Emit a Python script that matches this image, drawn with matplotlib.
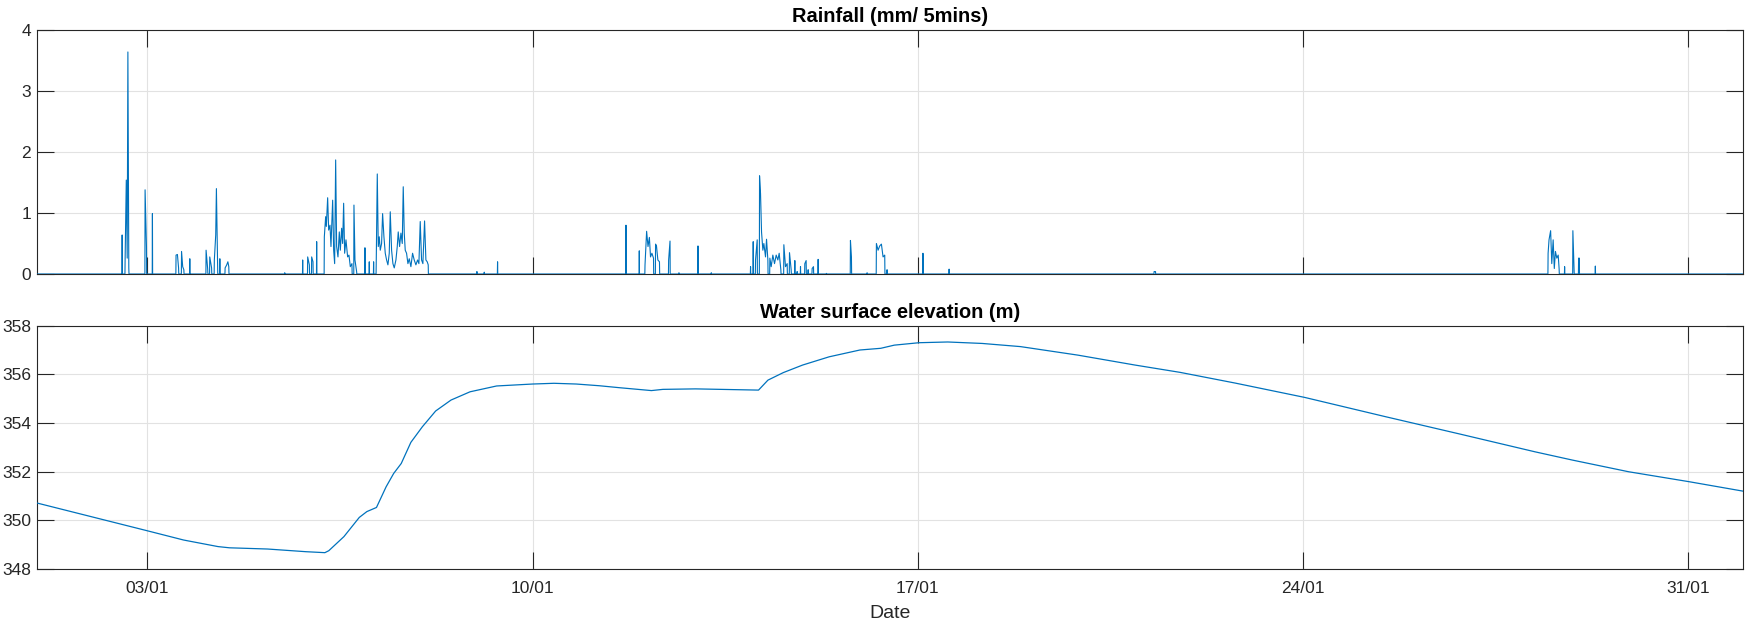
import numpy as np
import pandas as pd
import matplotlib
matplotlib.use('Agg')
import matplotlib.pyplot as plt
import matplotlib.dates as mdates

plt.rcParams['font.family'] = ['Liberation Sans', 'DejaVu Sans']

start = pd.Timestamp('2020-01-01 00:00')
end = pd.Timestamp('2020-01-31 23:55')

# rainfall samples (hours since 01/01 00:00, mm per 5 min), zero elsewhere
rain_h = [37.0, 38.3, 38.8, 39.2, 39.5, 39.9, 47.0, 47.6, 50.2,
          60.5, 61.1, 61.6, 62.9, 63.4, 63.9, 66.5,
          73.6, 74.3, 75.2, 76.0, 77.2, 77.8, 78.1, 78.6, 79.6,
          81.9, 82.6, 83.1, 83.5, 107.9,
          115.72, 117.90, 118.63, 119.64, 120.22, 121.82,
          125.16, 125.74, 126.03, 126.61, 127.05, 127.63, 128.06, 128.79,
          129.23, 129.66, 130.10, 130.53, 131.11, 131.69, 132.13, 132.71,
          133.15, 133.58, 134.02, 134.60, 135.32, 135.90, 136.49, 137.21,
          138.08, 138.52, 139.24, 142.87, 144.76, 146.65,
          147.81, 148.25, 148.68, 149.12, 149.55, 150.13, 150.57, 151.15,
          151.73, 152.31, 152.89, 153.47, 153.91, 154.49, 155.07, 155.65,
          156.38, 156.96, 157.39, 157.98, 158.56, 159.14, 159.57, 160.01,
          160.44, 161.02, 161.61, 162.19, 162.91, 163.64, 164.36, 165.09,
          165.82, 166.40, 166.98, 167.56, 168.14, 168.87, 169.45, 170.03,
          170.46,
          191.7, 194.9, 200.7, 256.7, 262.5,
          265.0, 265.7, 266.3, 266.9, 267.4, 268.0, 268.7, 269.6, 270.0,
          270.6, 271.3, 275.3, 275.9, 279.8, 288.1, 293.9,
          311.02, 312.18, 313.19, 313.92, 314.94, 315.37, 315.81, 316.39,
          316.82, 317.55, 317.99, 318.57, 319.44, 320.02, 320.74, 321.47,
          322.20, 322.92, 323.50, 324.23, 325.54, 326.26, 326.99, 328.00,
          328.73, 330.33, 331.34, 332.80, 334.68, 335.26, 336.14, 337.88,
          338.46, 340.49, 344.12, 354.58, 355.01, 361.84,
          365.90, 366.63, 367.35, 368.08, 368.80, 369.53, 370.55,
          386.2, 397.6, 487.0, 487.6,
          658.8, 659.2, 659.9, 660.4, 661.0, 661.5, 662.0, 662.6, 663.2,
          663.6, 666.0, 669.6, 670.1, 672.1, 672.4, 679.4]
rain_mm = [0.64, 0.26, 1.54, 0.26, 3.64, 0.10, 1.38, 0.45, 0.99,
           0.31, 0.32, 0.10, 0.37, 0.12, 0.07, 0.25,
           0.39, 0.08, 0.28, 0.10, 0.23, 0.64, 1.40, 0.20, 0.25,
           0.10, 0.15, 0.20, 0.12, 0.02,
           0.23, 0.28, 0.15, 0.28, 0.20, 0.53,
           0.61, 0.94, 0.78, 1.25, 0.72, 0.80, 0.45, 1.21,
           0.39, 0.17, 1.87, 0.45, 0.28, 0.69, 0.39, 0.75,
           0.50, 1.16, 0.34, 0.56, 0.28, 0.31, 0.12, 0.17,
           1.13, 0.23, 0.04, 0.43, 0.20, 0.20,
           0.23, 1.64, 0.45, 0.61, 0.39, 0.50, 0.99, 0.61,
           0.34, 0.23, 0.15, 0.34, 1.02, 0.39, 0.17, 0.10,
           0.23, 0.45, 0.69, 0.45, 0.67, 0.50, 1.43, 0.67,
           0.39, 0.34, 0.17, 0.25, 0.12, 0.34, 0.23, 0.15,
           0.23, 0.17, 0.86, 0.23, 0.17, 0.87, 0.23, 0.20,
           0.15,
           0.04, 0.03, 0.20, 0.80, 0.38,
           0.15, 0.70, 0.45, 0.60, 0.28, 0.34, 0.26, 0.49, 0.46,
           0.23, 0.20, 0.23, 0.54, 0.02, 0.46, 0.02,
           0.12, 0.53, 0.23, 0.56, 1.61, 1.32, 0.69, 0.39,
           0.50, 0.28, 0.57, 0.23, 0.26, 0.12, 0.31, 0.17,
           0.31, 0.23, 0.34, 0.07, 0.48, 0.12, 0.17, 0.35,
           0.07, 0.22, 0.04, 0.12, 0.17, 0.22, 0.07, 0.09,
           0.12, 0.24, 0.01, 0.55, 0.28, 0.02,
           0.50, 0.39, 0.46, 0.49, 0.28, 0.31, 0.07,
           0.34, 0.08, 0.04, 0.04,
           0.34, 0.56, 0.71, 0.17, 0.56, 0.09, 0.37, 0.26, 0.31,
           0.09, 0.12, 0.71, 0.05, 0.26, 0.26, 0.13]

# water surface elevation (hours since 01/01 00:00, m)
wse_h = [0, 48, 63.8, 78.8, 83.8, 100.4, 117.1, 125.4, 127.1, 133.7,
         140.4, 143.7, 147.9, 152.1, 155.4, 158.7, 162.9, 167.9, 173.7,
         180.4, 188.7, 200.3, 216, 225.3, 235, 245, 253.7, 267.8, 272.8,
         287.0, 314.5, 318.6, 325.3, 333.7, 345.3, 358.7, 367.8, 373.7,
         384.5, 397.0, 412.0, 428.7, 453.7, 478.7, 498.3, 522.3, 552.6,
         587.7, 620.4, 653.1, 669.4, 693.9, 720.3, 743.9]
wse_m = [350.70, 349.56, 349.18, 348.91, 348.86, 348.81, 348.70, 348.66,
         348.74, 349.32, 350.11, 350.35, 350.52, 351.37, 351.92, 352.33,
         353.20, 353.84, 354.49, 354.94, 355.28, 355.52, 355.60, 355.63,
         355.60, 355.53, 355.45, 355.33, 355.38, 355.40, 355.35, 355.76,
         356.07, 356.38, 356.72, 357.00, 357.07, 357.20, 357.30, 357.33,
         357.27, 357.14, 356.79, 356.38, 356.08, 355.64, 355.05, 354.26,
         353.54, 352.81, 352.47, 351.99, 351.58, 351.19]

tick_days = ['2020-01-03', '2020-01-10', '2020-01-17', '2020-01-24', '2020-01-31']

# rain goes back to zero between separate bursts
step = 5 / 60
t, v = [0.0], [0.0]
for h, mm in zip(rain_h, rain_mm):
    if h - t[-1] > 0.8:
        t += [t[-1] + step, h - step]
        v += [0.0, 0.0]
    t.append(h)
    v.append(mm)
t += [t[-1] + step, 744 - step]
v += [0.0, 0.0]

rain_dates = (start + pd.to_timedelta(t, unit='h')).to_pydatetime()
wse_dates = (start + pd.to_timedelta(wse_h, unit='h')).to_pydatetime()

blue = '#0072BD'
dark = '#262626'

fig = plt.figure(figsize=(17.48, 6.24), dpi=100)
ax1 = fig.add_axes([0.02134, 0.5609, 0.97597, 0.39102])
ax2 = fig.add_axes([0.02134, 0.08862, 0.97597, 0.38942])

ax1.plot(rain_dates, v, color=blue, lw=0.8, zorder=3)
ax2.plot(wse_dates, wse_m, color=blue, lw=0.9, zorder=3)

ax1.set_ylim(0, 4)
ax1.set_yticks([0, 1, 2, 3, 4])
ax2.set_ylim(348, 358)
ax2.set_yticks([348, 350, 352, 354, 356, 358])

ticks = [pd.Timestamp(d).to_pydatetime() for d in tick_days]
for ax in (ax1, ax2):
    ax.set_xlim(start.to_pydatetime(), end.to_pydatetime())
    ax.set_xticks(ticks)
    ax.xaxis.set_major_formatter(mdates.DateFormatter('%d/%m'))
    ax.grid(True, color='#e2e2e2', lw=0.8)
    ax.set_axisbelow(True)
    ax.tick_params(direction='in', length=12.5, width=0.8, color=dark,
                   top=True, right=True, labelsize=12.5, labelcolor=dark)
    ax.tick_params(axis='x', pad=8.5)
    ax.tick_params(axis='y', pad=4.5)
    for s in ax.spines.values():
        s.set_color(dark)
        s.set_linewidth(0.8)

ax1.tick_params(axis='x', labelbottom=False)

ax1.set_title('Rainfall (mm/ 5mins)', fontsize=14.4, fontweight='bold', pad=6)
ax2.set_title('Water surface elevation (m)', fontsize=14.4, fontweight='bold', pad=5.3)
ax2.set_xlabel('Date', fontsize=14, color=dark, labelpad=6.5)

fig.savefig('out.png', dpi=100)
